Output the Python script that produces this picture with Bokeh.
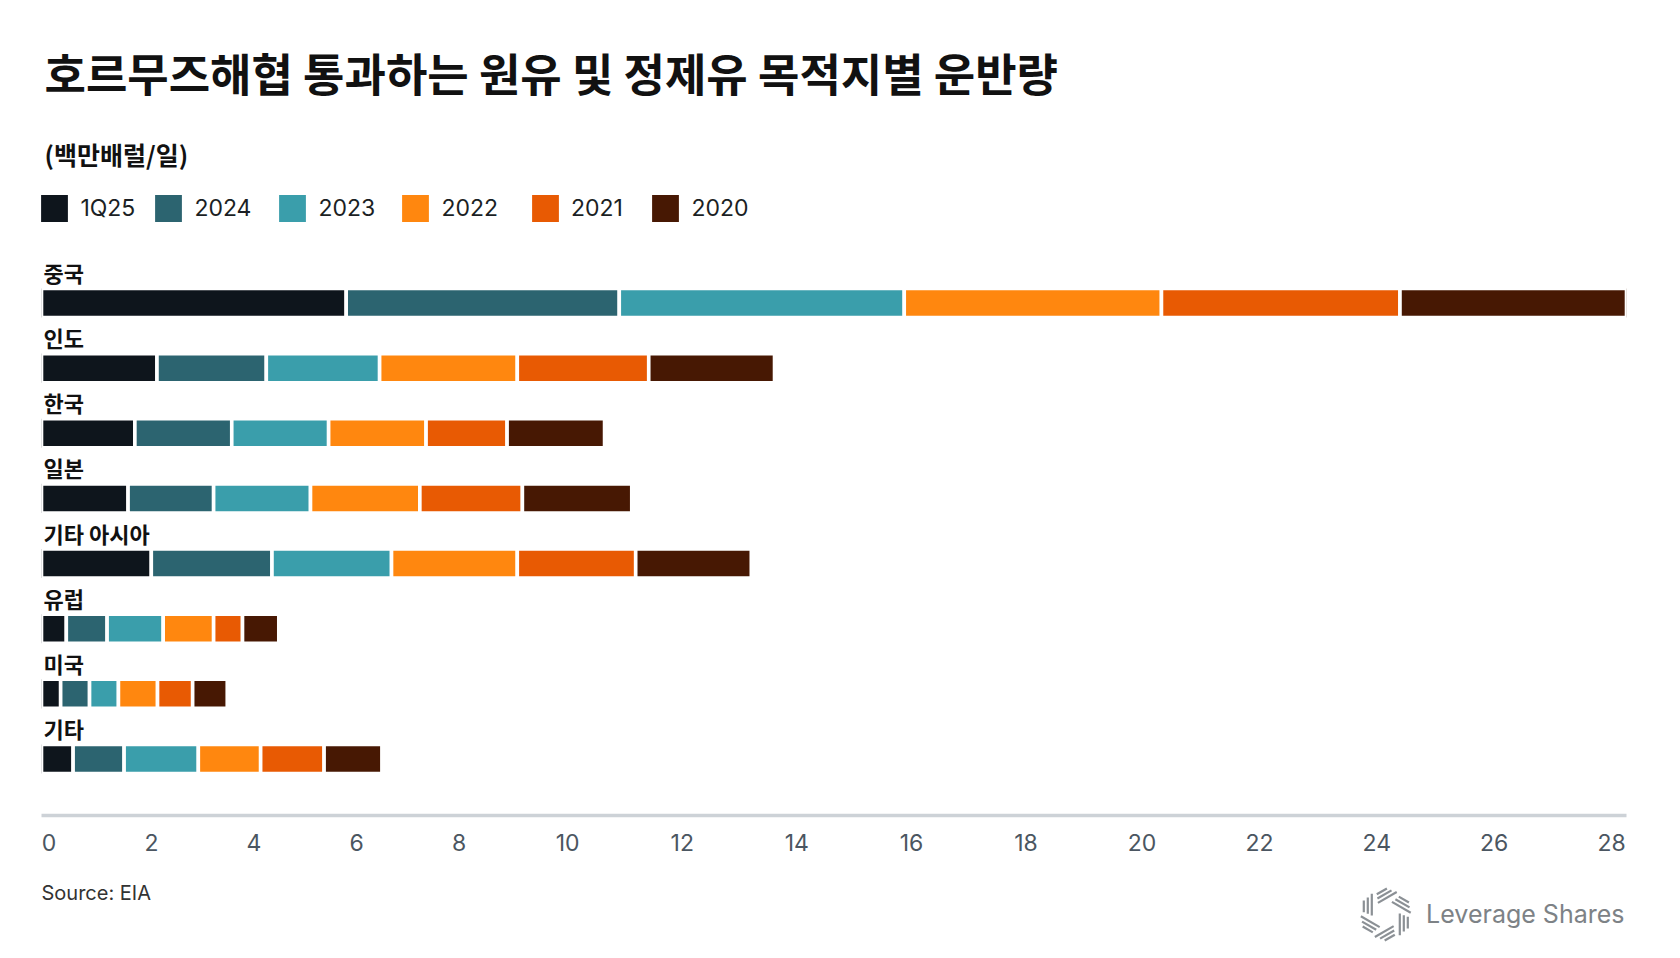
import math
from bokeh.plotting import figure
from bokeh.layouts import column
from bokeh.models import (ColumnDataSource, Range1d, Legend, LegendItem, Label,
                          FixedTicker)
from bokeh.embed import file_html
from bokeh.resources import INLINE
from bokeh.core.properties import value

# ---------------- data ----------------
categories = ["중국", "인도", "한국", "일본", "기타 아시아", "유럽", "미국", "기타"]
series = ["1Q25", "2024", "2023", "2022", "2021", "2020"]
v_1q25 = [5.41, 2.07, 1.68, 1.56, 1.97, 0.47, 0.37, 0.59]
v_2024 = [4.82, 1.93, 1.71, 1.51, 2.13, 0.72, 0.51, 0.90]
v_2023 = [5.03, 2.00, 1.71, 1.71, 2.11, 0.99, 0.51, 1.31]
v_2022 = [4.54, 2.43, 1.72, 1.93, 2.22, 0.89, 0.69, 1.10]
v_2021 = [4.21, 2.32, 1.43, 1.81, 2.09, 0.51, 0.62, 1.12]
v_2020 = [4.03, 2.22, 1.72, 1.93, 2.04, 0.64, 0.61, 1.02]
tick_values = [0, 2, 4, 6, 8, 10, 12, 14, 16, 18, 20, 22, 24, 26, 28]
tick_labels = [str(t) for t in tick_values]

TITLE = "호르무즈해협 통과하는 원유 및 정제유 목적지별 운반량"
SUBTITLE = "(백만배럴/일)"
SOURCE = "Source: EIA"
BRAND = "Leverage Shares"

colors = ["#0e151c", "#2c6470", "#3a9eab", "#ff870f", "#e85a03", "#471803"]

# ---------------- layout ----------------
W = 1664
H_TOTAL = 942
LEFT = 41
FRAME_W = 1585
RIGHT = W - LEFT - FRAME_W
FRAME_H = 815            # frame bottom = x axis line
BOTTOM1 = 55
H1 = FRAME_H + BOTTOM1
H2 = H_TOTAL - H1
ROW_PITCH = 65.14
FIRST_ROW = 302.5
BAR_PX = 25.5
GAP = 3.6
LEGEND_X = [41, 155, 279, 402, 531.5, 652]   # left edge of each legend swatch
LEGEND_Y = 207.5
KR = "Noto Sans CJK KR"
LAT = "Inter"

values = [v_1q25, v_2024, v_2023, v_2022, v_2021, v_2020]
n = len(categories)
ypos = [n - 1 - i for i in range(n)]
y_end = ypos[0] + FIRST_ROW / ROW_PITCH
y_start = y_end - FRAME_H / ROW_PITCH
totals = [sum(v[i] for v in values) for i in range(n)]
x_max = max(totals)

# white segment outlines cover GAP/2 px of each bar end; shift so the visible
# coloured area spans exactly the frame
ppu = (FRAME_W + GAP) / x_max
x_start = (GAP / 2) / ppu
x_end = x_max - (GAP / 2) / ppu

data = {"y": ypos, "cat": categories}
for s, v in zip(series, values):
    data[s] = v
src = ColumnDataSource(data)

p = figure(width=W, height=H1, x_range=Range1d(x_start, x_end),
           y_range=Range1d(y_start, y_end), y_axis_location=None,
           toolbar_location=None, output_backend="svg",
           min_border_left=LEFT, min_border_right=RIGHT,
           min_border_top=0, min_border_bottom=BOTTOM1)
p.outline_line_color = None
p.background_fill_color = "white"
p.border_fill_color = "white"
p.xgrid.grid_line_color = None
p.ygrid.grid_line_color = None

bar_h = (BAR_PX + GAP) / ROW_PITCH
renderers = p.hbar_stack(series, y="y", height=bar_h, fill_color=colors,
                         line_color="white", line_width=GAP, source=src)

# category labels
p.text(x=[x_start] * n, y=ypos, text=categories, text_font=value(KR),
       text_font_style="bold", text_font_size="22px", text_color="#111111",
       text_baseline="middle", x_offset=2, y_offset=-31)

# x axis, labels spread like the original (space-between row of labels)
FS_TICK = 23
def text_w(s):
    return sum((0.524 if c == "1" else 0.646) * FS_TICK for c in s)
widths = [text_w(t) for t in tick_labels]
g = (FRAME_W - sum(widths)) / (len(widths) - 1)
cur = 0.0
centers = []
for w in widths:
    centers.append(cur + w / 2)
    cur += w + g
tick_pos = [round(x_start + c * (x_end - x_start) / FRAME_W, 4) for c in centers]

ax = p.xaxis[0]
ax.ticker = FixedTicker(ticks=tick_pos, minor_ticks=[])
ax.major_label_overrides = {tp: lab for tp, lab in zip(tick_pos, tick_labels)}
ax.major_tick_line_color = None
ax.minor_tick_line_color = None
ax.major_tick_out = 0
ax.major_tick_in = 0
ax.axis_line_color = "#cdd2d7"
ax.axis_line_width = 3.5
ax.major_label_text_font = LAT
ax.major_label_text_font_size = "23px"
ax.major_label_text_color = "#4b5661"
ax.major_label_standoff = 18

# legend (bar legend glyphs are inset by 10%, so the box is enlarged)
GLYPH = (27 + GAP) / 0.8
inset = GLYPH * 0.1 + GAP / 2
for s, r, lx in zip(series, renderers, LEGEND_X):
    lg = Legend(items=[LegendItem(label=s, renderers=[r])],
                location=(lx - LEFT - inset, FRAME_H - (LEGEND_Y + GLYPH / 2)),
                orientation="horizontal",
                glyph_width=round(GLYPH), glyph_height=round(GLYPH),
                label_standoff=7, spacing=0,
                padding=0, margin=0, border_line_alpha=0,
                background_fill_alpha=0, label_text_font=LAT,
                label_text_font_size="23px", label_text_color="#1b1f24")
    p.add_layout(lg)

# title & subtitle
p.add_layout(Label(x=3, y=FRAME_H - 71.5, x_units="screen", y_units="screen",
                   text=TITLE, text_font=KR, text_font_size="45px",
                   text_font_style="bold", text_color="#111111",
                   text_baseline="middle"))
p.add_layout(Label(x=3, y=FRAME_H - 153.4, x_units="screen", y_units="screen",
                   text=SUBTITLE, text_font=KR, text_font_size="25px",
                   text_font_style="bold", text_color="#111111",
                   text_baseline="middle"))

# ---------------- footer ----------------
f = figure(width=W, height=H2, x_range=Range1d(LEFT, LEFT + FRAME_W),
           y_range=Range1d(H2, 0),
           x_axis_location=None, y_axis_location=None,
           toolbar_location=None, output_backend="svg",
           min_border_left=LEFT, min_border_right=RIGHT,
           min_border_top=0, min_border_bottom=0)
f.outline_line_color = None
f.xgrid.grid_line_color = None
f.ygrid.grid_line_color = None
f.background_fill_color = "white"
f.border_fill_color = "white"

f.add_layout(Label(x=LEFT, y=892 - H1, text=SOURCE, text_font=LAT,
                   text_font_size="20px", text_color="#333333",
                   text_baseline="middle"))
f.add_layout(Label(x=LEFT + FRAME_W - 2, y=913 - H1, text=BRAND,
                   text_font=LAT, text_font_size="25px", text_color="#7d8286",
                   text_baseline="middle", text_align="right"))

# brand mark: six groups of three strokes arranged as a pinwheel
cx, cy = 1385.3, 914 - H1
base = [(-22.0, -14.0, -2.3), (-18.0, -17.0, -0.7), (-14.0, -20.7, 1.0)]
xs, ys = [], []
for j in range(6):
    a = math.radians(60 * j)
    ca, sa = math.cos(a), math.sin(a)
    for (bx, y0, y1) in base:
        pts = [(bx, y0), (bx, y1)]
        xs.append([cx + px * ca - py * sa for px, py in pts])
        ys.append([cy + px * sa + py * ca for px, py in pts])
f.multi_line(xs, ys, line_color="#8b9095", line_width=2.2)

layout = column(p, f, spacing=0)
open("out.html", "w").write(file_html(layout, INLINE))
